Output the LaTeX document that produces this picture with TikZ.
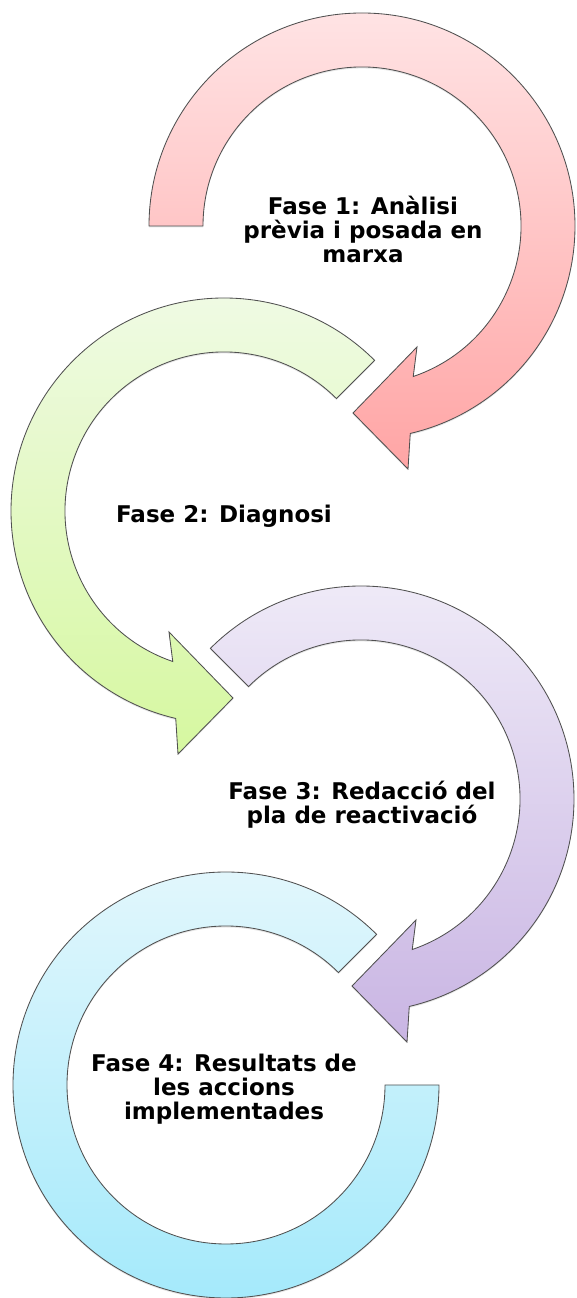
\documentclass[tikz,border=0pt]{standalone}
\usepackage{fontspec}
\setmainfont{DejaVu Sans}
\usetikzlibrary{shadows}
\definecolor{edgegray}{HTML}{505050}
\definecolor{redtop}{HTML}{FFE3E4}
\definecolor{redbot}{HTML}{FFA5A5}
\definecolor{greentop}{HTML}{F0FAE6}
\definecolor{greenbot}{HTML}{D6F8A0}
\definecolor{purptop}{HTML}{F0ECF8}
\definecolor{purpbot}{HTML}{C9B5E3}
\definecolor{bluetop}{HTML}{E4F7FC}
\definecolor{bluebot}{HTML}{A2E9FB}
\tikzset{
  arrowbody/.style={draw=edgegray, line width=0.85pt,
    drop shadow={shadow xshift=0pt, shadow yshift=-1.5pt, opacity=0.2}},
  phasetext/.style={font=\fontsize{23}{24}\selectfont\bfseries, align=center, inner sep=0pt, text=black}
}
\begin{document}
\begin{tikzpicture}[x=1pt,y=1pt]
\useasboundingbox (0,0) rectangle (576,1298);
% Fase 1 (red)
\begin{scope}[shift={(362,1072)}]
\path[arrowbody, top color=redtop, bottom color=redbot]
  (180:213) arc[start angle=180, end angle=-76.9, radius=213]
  -- (46,-243) -- (-9,-187) -- (55,-121) -- (-71.2:159)
  arc[start angle=-71.2, end angle=180, radius=159] -- cycle;
\end{scope}
% Fase 2 (green)
\begin{scope}[shift={(224,787)}, xscale=-1]
\path[arrowbody, top color=greentop, bottom color=greenbot]
  (135:213) arc[start angle=135, end angle=-76.9, radius=213]
  -- (46,-243) -- (-9,-187) -- (55,-121) -- (-71.2:159)
  arc[start angle=-71.2, end angle=135, radius=159] -- cycle;
\end{scope}
% Fase 3 (purple)
\begin{scope}[shift={(361,499)}]
\path[arrowbody, top color=purptop, bottom color=purpbot]
  (135:213) arc[start angle=135, end angle=-76.9, radius=213]
  -- (46,-243) -- (-9,-187) -- (55,-121) -- (-71.2:159)
  arc[start angle=-71.2, end angle=135, radius=159] -- cycle;
\end{scope}
% Fase 4 (blue)
\begin{scope}[shift={(226,213)}]
\path[arrowbody, top color=bluetop, bottom color=bluebot]
  (45:213) arc[start angle=45, end angle=360, radius=213]
  -- (0:159) arc[start angle=360, end angle=45, radius=159] -- cycle;
\end{scope}
\node[phasetext] (t1) at (363,1069) {Fase 1: Anàlisi\\prèvia i posada en\\marxa};
\node[phasetext] (t2) at (224,782) {Fase 2: Diagnosi};
\node[phasetext] (t3) at (362,493) {Fase 3: Redacció del\\pla de reactivació};
\node[phasetext] (t4) at (224,209) {Fase 4: Resultats de\\les accions\\implementades};
\end{tikzpicture}
\end{document}
